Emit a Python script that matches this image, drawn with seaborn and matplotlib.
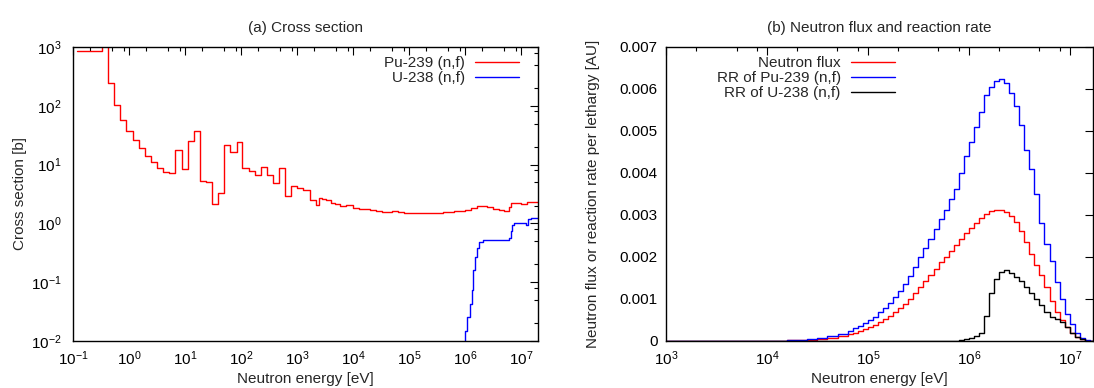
import matplotlib
matplotlib.use("Agg")
import matplotlib.pyplot as plt
import seaborn as sns
from matplotlib.ticker import LogLocator, MultipleLocator, FuncFormatter, NullFormatter

# (a) cross sections, group boundaries [eV] and group values [b]
pu_energy = [0.12, 0.33, 0.415, 0.55, 0.70, 0.90, 1.17, 1.50, 1.93, 2.47, 3.17, 4.06,
             5.2, 6.7, 8.7, 11.2, 14.4, 18.4, 23.6, 30.3, 38.8, 49.8, 64.7, 83, 105,
             138, 177, 228, 292, 374, 480, 615, 790, 1010, 1300, 1670, 2140, 2460,
             2750, 3240, 4000, 4800, 5960, 7590, 9800, 12600, 16000, 20000, 25700,
             33000, 40000, 50000, 63000, 80000, 1.0e5, 1.26e5, 2.5e5, 4.0e5, 6.3e5,
             8.0e5, 1.0e6, 1.26e6, 1.6e6, 2.0e6, 2.5e6, 3.2e6, 4.0e6, 5.0e6, 6.0e6,
             6.6e6, 7.2e6, 1.0e7, 1.26e7, 2.0e7]
pu_xs = [850, 1500, 248, 105, 58, 38, 26, 19, 14, 11, 8.9, 7.4,
         7.2, 18, 8.5, 25, 38, 5.3, 5.1, 2.17, 3.34, 21.5, 16.2, 24.6, 8.6,
         7.9, 6.6, 9.1, 6.6, 4.9, 8.6, 2.9, 4.3, 4.0, 3.65, 2.5, 2.03, 2.75,
         2.6, 2.5, 2.2, 2.1, 1.95, 2.05, 1.84, 1.78, 1.74, 1.70, 1.62,
         1.58, 1.55, 1.6, 1.55, 1.5, 1.5, 1.48, 1.5, 1.55, 1.6,
         1.65, 1.72, 1.85, 1.95, 1.97, 1.9, 1.78, 1.68, 1.6, 1.9,
         2.2, 2.25, 2.15, 2.35]

u_energy = [9.0e5, 1.0e6, 1.1e6, 1.2e6, 1.3e6, 1.4e6, 1.5e6, 1.6e6, 1.8e6, 2.1e6,
            2.8e6, 6.0e6, 6.5e6, 7.0e6, 7.5e6, 8.5e6, 1.2e7, 1.35e7, 1.5e7, 2.0e7]
u_xs = [0.006, 0.015, 0.026, 0.043, 0.073, 0.16, 0.27, 0.38, 0.48, 0.53,
        0.52, 0.57, 0.75, 0.93, 1.0, 1.0, 0.95, 1.2, 1.25]

# (b) flux and reaction rates per lethargy, group boundaries [eV]
grp_energy = [1e3, 3.16e3, 1e4, 1.58e4, 2.51e4, 3.16e4, 3.98e4, 5.01e4, 6.31e4,
              7.08e4, 7.94e4, 8.91e4,
              1.00e5, 1.12e5, 1.26e5, 1.41e5, 1.58e5, 1.78e5, 2.00e5, 2.24e5,
              2.51e5, 2.82e5, 3.16e5, 3.55e5, 3.98e5, 4.47e5, 5.01e5, 5.62e5,
              6.31e5, 7.08e5, 7.94e5, 8.91e5,
              1.00e6, 1.12e6, 1.26e6, 1.41e6, 1.58e6, 1.78e6, 2.00e6, 2.24e6,
              2.51e6, 2.82e6, 3.16e6, 3.55e6, 3.98e6, 4.47e6, 5.01e6, 5.62e6,
              6.31e6, 7.08e6, 7.94e6, 8.91e6,
              1.00e7, 1.12e7, 1.26e7, 1.41e7, 1.58e7, 2.00e7]
flux = [0, 0.000001, 0.000006, 0.000012, 0.00003, 0.00005, 0.00007, 0.00011, 0.00016,
        0.00020, 0.00024, 0.00028,
        0.00033, 0.00038, 0.00045, 0.00052, 0.00060, 0.00069, 0.00078, 0.00089,
        0.00101, 0.00114, 0.00129, 0.00143, 0.00157, 0.00172, 0.00187, 0.00201,
        0.00215, 0.00228, 0.00242, 0.00256,
        0.00270, 0.00282, 0.00294, 0.00303, 0.00310, 0.00313, 0.00313, 0.00308,
        0.00298, 0.00283, 0.00262, 0.00235, 0.00208, 0.00182, 0.00158, 0.00128,
        0.00095, 0.00070, 0.00050, 0.00033,
        0.00020, 0.00010, 0.00004, 0.00001, 0]
rr_pu = [0, 0.000002, 0.00001, 0.00002, 0.00005, 0.00008, 0.00011, 0.00017, 0.00025,
         0.00030, 0.00036, 0.00042,
         0.00050, 0.00058, 0.00068, 0.00078, 0.00090, 0.00104, 0.00118, 0.00136,
         0.00155, 0.00176, 0.00199, 0.00222, 0.00243, 0.00266, 0.00290, 0.00313,
         0.00337, 0.00363, 0.00400, 0.00440,
         0.00475, 0.00510, 0.00545, 0.00585, 0.00605, 0.00618, 0.00625, 0.00615,
         0.00590, 0.00560, 0.00515, 0.00455, 0.00410, 0.00350, 0.00280, 0.00230,
         0.00190, 0.00140, 0.00100, 0.00065,
         0.00040, 0.00020, 0.00007, 0.00002, 0]
rr_u = [0, 0, 0, 0, 0, 0, 0, 0, 0,
        0, 0, 0,
        0, 0, 0, 0, 0, 0, 0, 0,
        0, 0, 0, 0, 0, 0, 0, 0,
        0, 0.00001, 0.00002, 0.00004,
        0.00008, 0.00013, 0.00018, 0.00060, 0.00115, 0.00148, 0.00165, 0.00168,
        0.00163, 0.00152, 0.00142, 0.00128, 0.00115, 0.00100, 0.00086, 0.00070,
        0.00058, 0.00053, 0.00045, 0.00033,
        0.00020, 0.00010, 0.00004, 0.00001, 0]

sns.set_style("white")
plt.rcParams["font.family"] = ["Liberation Sans", "DejaVu Sans"]
plt.rcParams["font.size"] = 11
plt.rcParams["mathtext.fontset"] = "custom"
plt.rcParams["mathtext.rm"] = "Liberation Sans"

fig = plt.figure(figsize=(10.94, 3.88), dpi=100)
ax1 = fig.add_axes([73 / 1094, 47 / 388, 465 / 1094, 294 / 388])
ax2 = fig.add_axes([666 / 1094, 47 / 388, 427 / 1094, 294 / 388])


def steps(ax, e, v, color, label):
    sns.lineplot(x=e, y=list(v) + [v[-1]], ax=ax, color=color, lw=1.0,
                 drawstyle="steps-post", estimator=None, sort=False, label=label)


def style(ax):
    for s in ax.spines.values():
        s.set_visible(True)
        s.set_color("black")
        s.set_linewidth(1.0)
    ax.tick_params(which="both", direction="in", top=True, right=True,
                   colors="black", labelsize=11)
    ax.tick_params(axis="x", pad=6)
    ax.tick_params(axis="y", pad=6)
    ax.tick_params(which="major", length=6, width=0.8)
    ax.tick_params(which="minor", length=3, width=0.8)


leg_kw = dict(markerfirst=False, frameon=False, borderpad=0, borderaxespad=0,
              handlelength=2.9, handletextpad=0.65, labelspacing=0.08, fontsize=11)

# (a)
steps(ax1, pu_energy, pu_xs, "#ff0000", "Pu-239 (n,f)")
steps(ax1, u_energy, u_xs, "#0000ff", "U-238 (n,f)")
ax1.set_xscale("log")
ax1.set_yscale("log")
ax1.set_xlim(0.1, 2e7)
ax1.set_ylim(1e-2, 1e3)
ax1.xaxis.set_major_locator(LogLocator(base=10, numticks=20))
ax1.xaxis.set_minor_locator(LogLocator(base=10, subs=(2, 5, 8), numticks=20))
ax1.yaxis.set_minor_locator(LogLocator(base=10, subs=(2, 5, 8), numticks=20))
ax1.xaxis.set_minor_formatter(NullFormatter())
ax1.yaxis.set_minor_formatter(NullFormatter())
ax1.set_xlabel("Neutron energy [eV]", labelpad=3)
ax1.set_ylabel("Cross section [b]", labelpad=3)
ax1.set_title("(a) Cross section", fontsize=11, pad=11)
style(ax1)
ax1.tick_params(axis="y", pad=8)
ax1.legend(loc="upper right", bbox_to_anchor=(1 - 19 / 465, 1 - 9 / 294), **leg_kw)

# (b)
steps(ax2, grp_energy, flux, "#ff0000", "Neutron flux")
steps(ax2, grp_energy, rr_pu, "#0000ff", "RR of Pu-239 (n,f)")
steps(ax2, grp_energy, rr_u, "black", "RR of U-238 (n,f)")
ax2.set_xscale("log")
ax2.set_xlim(1e3, 1.7e7)
ax2.set_ylim(0, 0.007)
ax2.xaxis.set_major_locator(LogLocator(base=10, numticks=20))
ax2.xaxis.set_minor_locator(LogLocator(base=10, subs=(2, 5, 8), numticks=20))
ax2.xaxis.set_minor_formatter(NullFormatter())
ax2.yaxis.set_major_locator(MultipleLocator(0.001))
ax2.yaxis.set_major_formatter(FuncFormatter(lambda v, p: "0" if abs(v) < 1e-9 else f"{v:.3f}"))
ax2.set_xlabel("Neutron energy [eV]", labelpad=3)
ax2.set_ylabel("Neutron flux or reaction rate per lethargy [AU]", labelpad=14)
ax2.set_title("(b) Neutron flux and reaction rate", fontsize=11, pad=11)
style(ax2)
ax2.legend(loc="upper right", bbox_to_anchor=(229 / 427, 1 - 9 / 294), **leg_kw)

fig.savefig("out.png", dpi=100)
